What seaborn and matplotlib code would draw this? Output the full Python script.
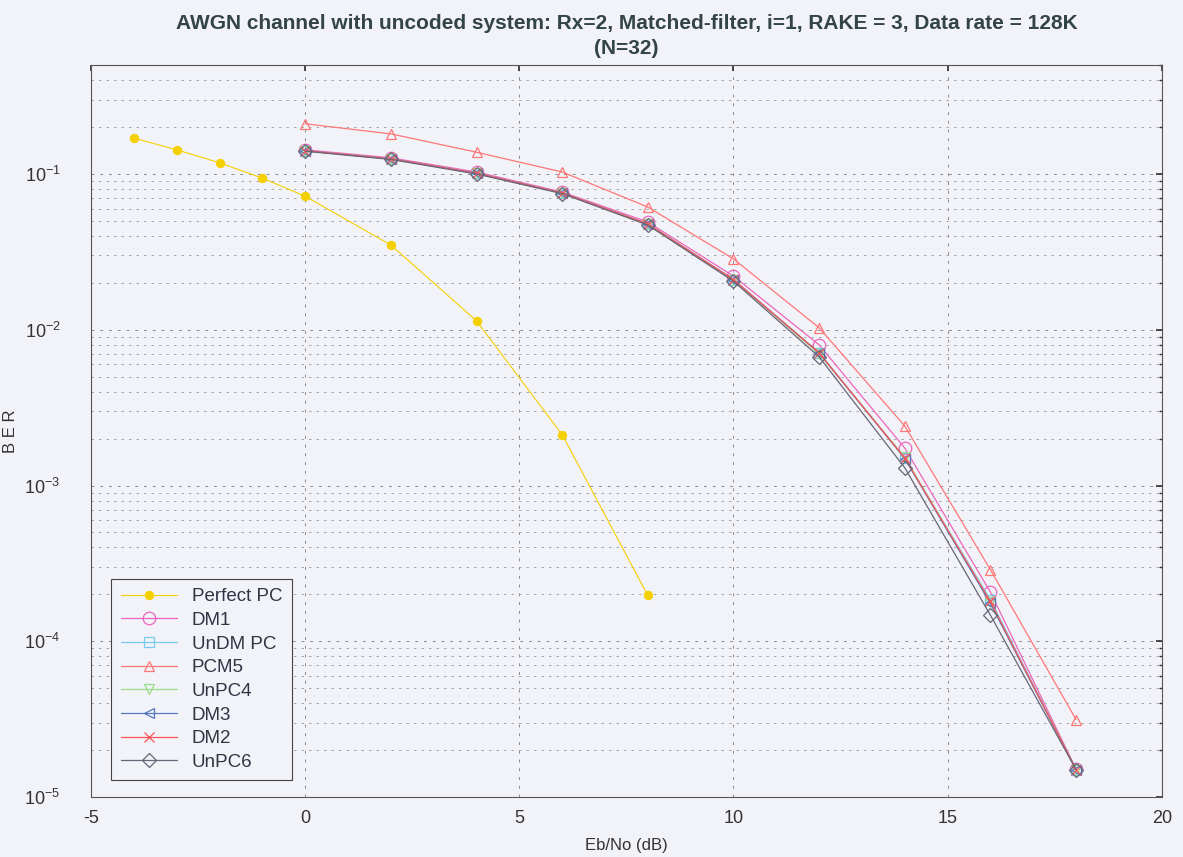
import numpy as np
import pandas as pd
import matplotlib
matplotlib.use("Agg")
import matplotlib.pyplot as plt
import seaborn as sns
from matplotlib.ticker import LogLocator, LogFormatterMathtext, FixedLocator

sns.set_theme(style="white")
plt.rcParams['font.family'] = ['Liberation Sans', 'DejaVu Sans']
plt.rcParams['axes.unicode_minus'] = False

# ---- data ----
x_perfect = [-4, -3, -2, -1, 0, 2, 4, 6, 8]
ber_perfect = [0.170, 0.143, 0.118, 0.094, 0.072, 0.035, 0.0114, 0.00212, 1.97e-4]

x_sys = [0, 2, 4, 6, 8, 10, 12, 14, 16, 18]
ber_dm1 = [0.143, 0.127, 0.103, 0.0766, 0.0492, 0.0221, 0.0080, 0.00174, 2.07e-4, 1.51e-5]
ber_undm = [0.141, 0.125, 0.101, 0.0755, 0.0478, 0.0210, 0.0071, 0.00150, 1.85e-4, 1.50e-5]
ber_pcm5 = [0.210, 0.181, 0.138, 0.103, 0.0614, 0.0285, 0.0103, 0.00241, 2.88e-4, 3.14e-5]
ber_unpc4 = [0.141, 0.125, 0.101, 0.0755, 0.0478, 0.0209, 0.0070, 0.00152, 1.78e-4, 1.50e-5]
ber_dm3 = [0.141, 0.125, 0.101, 0.0755, 0.0478, 0.0210, 0.0071, 0.00149, 1.75e-4, 1.50e-5]
ber_dm2 = [0.141, 0.125, 0.101, 0.0755, 0.0478, 0.0210, 0.0071, 0.00150, 1.80e-4, 1.50e-5]
ber_unpc6 = [0.140, 0.124, 0.100, 0.0748, 0.0470, 0.0205, 0.0067, 0.00130, 1.47e-4, 1.50e-5]

labels = ["Perfect PC", "DM1", "UnDM PC", "PCM5", "UnPC4", "DM3", "DM2", "UnPC6"]
colors = ["#f5d000", "#ee66bb", "#77ccee", "#ff7777", "#99dd88", "#5577bb", "#ff5555", "#666677"]
markers = ["o", "o", "s", "^", "v", "<", "x", "D"]

series = [(x_perfect, ber_perfect)] + [(x_sys, b) for b in
          [ber_dm1, ber_undm, ber_pcm5, ber_unpc4, ber_dm3, ber_dm2, ber_unpc6]]

bg = "#f2f2f9"
fig = plt.figure(figsize=(11.83, 8.57), dpi=100, facecolor=bg)
ax = fig.add_axes([0.077, 0.07, 0.905, 0.854])
ax.set_facecolor(bg)

for i, ((xs, ys), lab, col, mk) in enumerate(zip(series, labels, colors, markers)):
    df = pd.DataFrame({"x": xs, "y": ys})
    if i == 0:
        sns.lineplot(data=df, x="x", y="y", ax=ax, color=col, marker=mk, markersize=6,
                     markerfacecolor=col, markeredgecolor=col, linewidth=0.8,
                     label=lab, zorder=3)
    else:
        ms = 9 if mk == "o" else 7
        sns.lineplot(data=df, x="x", y="y", ax=ax, color=col, marker=mk, markersize=ms,
                     markerfacecolor="none", markeredgecolor=col, markeredgewidth=0.9,
                     linewidth=0.9, label=lab, zorder=3)

ax.set_yscale("log")
ax.set_xlim(-5, 20)
ax.set_ylim(1e-5, 0.5)
ax.xaxis.set_major_locator(FixedLocator([-5, 0, 5, 10, 15, 20]))
ax.yaxis.set_major_locator(LogLocator(base=10, numticks=10))
ax.yaxis.set_minor_locator(LogLocator(base=10, subs=np.arange(2, 10), numticks=20))
ax.yaxis.set_major_formatter(LogFormatterMathtext())
ax.yaxis.set_minor_formatter(plt.NullFormatter())

ax.grid(True, which="major", axis="both", color="#8a8a8a", linestyle=(0, (3, 6)), linewidth=0.7)
ax.grid(True, which="minor", axis="y", color="#9a9a9a", linestyle=(0, (3, 6)), linewidth=0.6)

for s in ax.spines.values():
    s.set_color("#555555")
    s.set_linewidth(0.8)
ax.tick_params(axis="both", which="both", direction="in", colors="#333333", labelsize=13,
               top=True, right=True, length=4)
ax.tick_params(axis="y", which="minor", length=2)
ax.tick_params(axis="y", which="major", pad=22)
ax.tick_params(axis="x", which="major", pad=9)

ax.set_xlabel("Eb/No (dB)", fontsize=12, color="#333333", labelpad=8)
ax.set_ylabel("B E R", fontsize=12, color="#333333")
ax.yaxis.set_label_coords(-0.068, 0.5)
ax.set_title("AWGN channel with uncoded system: Rx=2, Matched-filter, i=1, RAKE = 3, Data rate = 128K\n(N=32)",
             fontsize=15, fontweight="bold", color="#334444", pad=8,
             linespacing=1.4)

leg = ax.legend(loc="lower left", bbox_to_anchor=(0.01, 0.01), fontsize=13.5, frameon=True,
                fancybox=False, edgecolor="#444444", facecolor=bg, framealpha=1,
                handlelength=3, labelspacing=0.35, borderpad=0.5)
leg.get_frame().set_linewidth(0.8)
for t in leg.get_texts():
    t.set_color("#333344")

fig.savefig("out.png", dpi=100, facecolor=bg)
